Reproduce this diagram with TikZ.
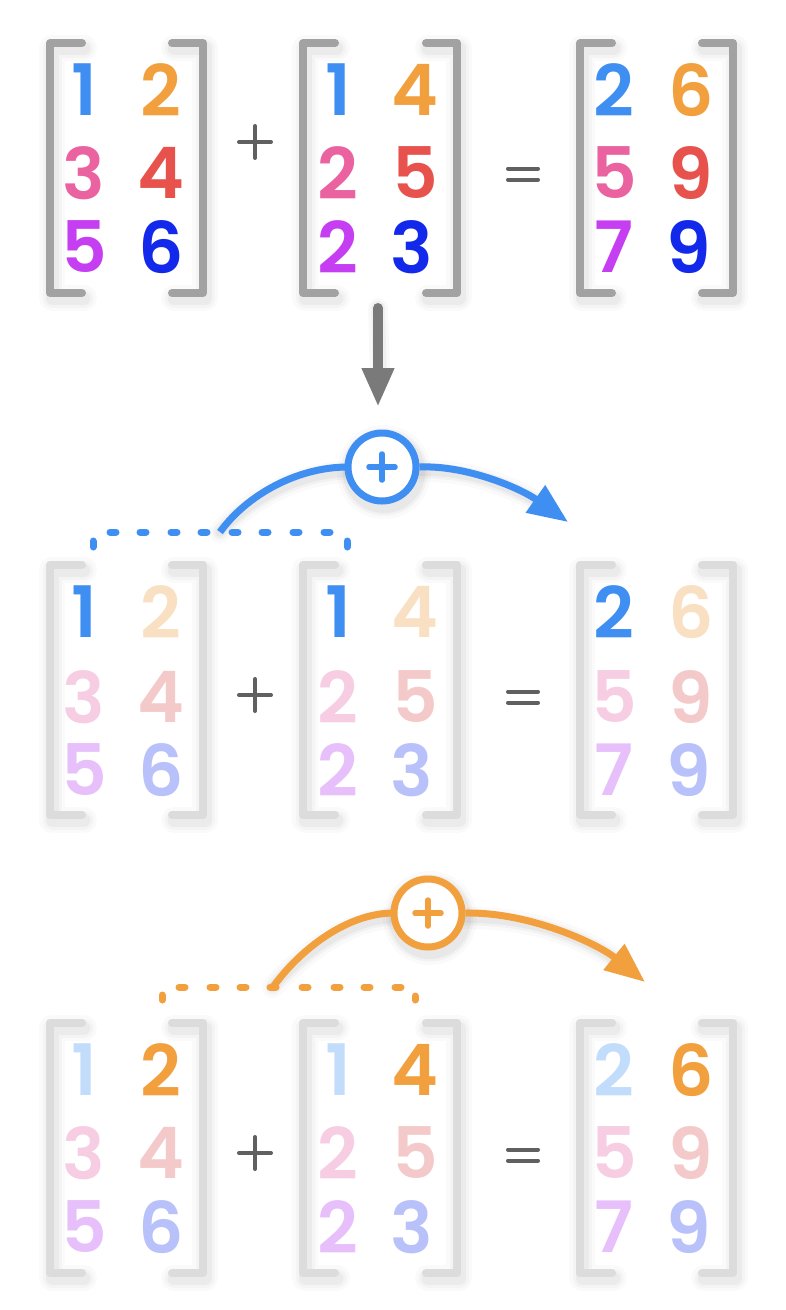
\documentclass[tikz,border=0pt]{standalone}
\usepackage{fontspec}
\newfontfamily\numfont{Poppins}[UprightFont={* SemiBold}]
\usetikzlibrary{arrows.meta}
\definecolor{cBlue}{HTML}{3F8EF2}
\definecolor{cOrange}{HTML}{F2A03E}
\definecolor{cPink}{HTML}{EA62A0}
\definecolor{cRed}{HTML}{E8524C}
\definecolor{cPurple}{HTML}{C63EF2}
\definecolor{cNavy}{HTML}{1228EA}
\definecolor{lBlue}{HTML}{C2DDFB}
\definecolor{lOrange}{HTML}{FAE0C2}
\definecolor{lPink}{HTML}{F6CDE2}
\definecolor{lRed}{HTML}{F4C9C9}
\definecolor{lPurple}{HTML}{E7BFFA}
\definecolor{lNavy}{HTML}{B9C1FA}
\definecolor{bGray}{HTML}{A2A2A2}
\definecolor{bLight}{HTML}{DCDCDC}
\definecolor{opGray}{HTML}{606060}
\definecolor{arGray}{HTML}{7A7A7A}
\newcommand\brackets[4]{%
  \foreach \w/\o in {26/0.018,19/0.025,13/0.035}{%
    \draw[shd=\o, line width=\w pt] (#1+32,#3) -- (#1,#3) -- (#1,#3+250) -- (#1+32,#3+250);
    \draw[shd=\o, line width=\w pt] (#2-31,#3) -- (#2,#3) -- (#2,#3+250) -- (#2-31,#3+250);}
  \draw[brk,#4] (#1+32,#3) -- (#1,#3) -- (#1,#3+250) -- (#1+32,#3+250);
  \draw[brk,#4] (#2-31,#3) -- (#2,#3) -- (#2,#3+250) -- (#2-31,#3+250);}
\newcommand\plussign[2]{%
  \draw[op] (#1.center) ++(-16,0) -- ++(32,0);
  \draw[op] (#1.center) ++(0,-16) -- ++(0,32);}
\newcommand\eqsign[1]{%
  \draw[op] (#1.center) ++(-15,-5.5) -- ++(30,0);
  \draw[op] (#1.center) ++(-15,5.5) -- ++(30,0);}
\begin{document}
\begin{tikzpicture}[x=1pt,y=-1pt,
  dig/.style={font=\numfont\fontsize{71}{71}\selectfont, inner sep=0pt, anchor=center},
  shd/.style={draw=black, opacity=#1, line cap=round, line join=round, shift={(2,5)}},
  brk/.style={line width=8pt, line cap=round, line join=round},
  op/.style={line width=4pt, opGray, line cap=round},
  opnode/.style={inner sep=0pt, minimum size=2pt},
  dashseg/.style={line width=7pt, line cap=round},
  arcline/.style={line width=7pt},
  plusring/.style={circle, line width=7pt, fill=white, minimum size=68pt, inner sep=0pt},
  ringplus/.style={line width=5.5pt, line cap=round}]
\path[fill=white] (0,0) rectangle (785,1310);

% ---------------- row 1 ----------------
\brackets{50}{203}{43}{bGray}
\brackets{303}{457}{43}{bGray}
\brackets{580}{733}{43}{bGray}
\node[dig,text=cBlue]   (a11) at (84,90)  {1};
\node[dig,text=cOrange] (a12) at (161,90) {2};
\node[dig,text=cPink]   (a21) at (84,173) {3};
\node[dig,text=cRed]    (a22) at (161,173) {4};
\node[dig,text=cPurple] (a31) at (84,247) {5};
\node[dig,text=cNavy]   (a32) at (161,247) {6};
\node[dig,text=cBlue]   (b11) at (338,90)  {1};
\node[dig,text=cOrange] (b12) at (415,90)  {4};
\node[dig,text=cPink]   (b21) at (338,173) {2};
\node[dig,text=cRed]    (b22) at (415,173) {5};
\node[dig,text=cPurple] (b31) at (338,247) {2};
\node[dig,text=cNavy]   (b32) at (412,247) {3};
\node[dig,text=cBlue]   (c11) at (614,90)  {2};
\node[dig,text=cOrange] (c12) at (691,90)  {6};
\node[dig,text=cPink]   (c21) at (614,173) {5};
\node[dig,text=cRed]    (c22) at (691,173) {9};
\node[dig,text=cPurple] (c31) at (614,247) {7};
\node[dig,text=cNavy]   (c32) at (689,247) {9};
\node[opnode] (p1) at (255,142) {};
\node[opnode] (e1) at (523,174) {};
\plussign{p1}{}
\eqsign{e1}

% down arrow
\coordinate (dA) at (378,308);
\coordinate (dB) at (378,407);
\foreach \w/\o in {20/0.025,14/0.035}
  \draw[shd=\o, line width=\w pt] (dA) -- (378,372);
\draw[arGray, line width=10pt, line cap=round, -{Triangle[length=39pt,width=30pt]}] (dA) -- (dB);

% ---------------- row 2 ----------------
\brackets{50}{203}{565}{bLight}
\brackets{303}{457}{565}{bLight}
\brackets{580}{733}{565}{bLight}
\node[dig,text=cBlue]   (d11) at (84,612)  {1};
\node[dig,text=lOrange] (d12) at (161,612) {2};
\node[dig,text=lPink]   (d21) at (84,697) {3};
\node[dig,text=lRed]    (d22) at (161,697) {4};
\node[dig,text=lPurple] (d31) at (84,770) {5};
\node[dig,text=lNavy]   (d32) at (161,770) {6};
\node[dig,text=cBlue]   (f11) at (338,612)  {1};
\node[dig,text=lOrange] (f12) at (415,612)  {4};
\node[dig,text=lPink]   (f21) at (338,697) {2};
\node[dig,text=lRed]    (f22) at (415,697) {5};
\node[dig,text=lPurple] (f31) at (338,770) {2};
\node[dig,text=lNavy]   (f32) at (412,770) {3};
\node[dig,text=cBlue]   (g11) at (614,612)  {2};
\node[dig,text=lOrange] (g12) at (691,612)  {6};
\node[dig,text=lPink]   (g21) at (614,697) {5};
\node[dig,text=lRed]    (g22) at (691,697) {9};
\node[dig,text=lPurple] (g31) at (614,770) {7};
\node[dig,text=lNavy]   (g32) at (689,770) {9};
\node[opnode] (p2) at (255,695) {};
\node[opnode] (e2) at (523,697) {};
\plussign{p2}{}
\eqsign{e2}

% blue dashed brace + arc
\coordinate (bS) at (220,532);
\coordinate (bT) at (568,522);
\foreach \w/\o in {22/0.02,15/0.03,10/0.04}{
  \draw[shd=\o, line width=\w pt] (bS) .. controls (246,496) and (296,467) .. (348,467);
  \draw[shd=\o, line width=\w pt] (416,466) .. controls (466,465) and (500,478) .. (538,498);
  \fill[black, opacity=\o, shift={(2,5)}] (382,467) circle (36+\w/2);}
\foreach \x in {113,143,174,204,235,265,296,327}
  \draw[dashseg,cBlue] (\x-3,532) -- (\x+3,532);
\draw[dashseg,cBlue] (93,541) -- (93,547);
\draw[dashseg,cBlue] (347,541) -- (347,547);
\draw[arcline,cBlue] (bS) .. controls (246,496) and (296,467) .. (348,467);
\node[plusring, draw=cBlue] (bc) at (382,467) {};
\draw[ringplus,cBlue] (bc.center) ++(-13,0) -- ++(26,0);
\draw[ringplus,cBlue] (bc.center) ++(0,-13) -- ++(0,26);
\draw[arcline,cBlue,-{Triangle[length=40pt,width=32pt]}] (bc.east) .. controls (466,465) and (520,488) .. (bT);

% ---------------- row 3 ----------------
\brackets{50}{203}{1023}{bLight}
\brackets{303}{457}{1023}{bLight}
\brackets{580}{733}{1023}{bLight}
\node[dig,text=lBlue]   (h11) at (84,1070)  {1};
\node[dig,text=cOrange] (h12) at (161,1070) {2};
\node[dig,text=lPink]   (h21) at (84,1153) {3};
\node[dig,text=lRed]    (h22) at (161,1153) {4};
\node[dig,text=lPurple] (h31) at (84,1227) {5};
\node[dig,text=lNavy]   (h32) at (161,1227) {6};
\node[dig,text=lBlue]   (k11) at (338,1070)  {1};
\node[dig,text=cOrange] (k12) at (415,1070)  {4};
\node[dig,text=lPink]   (k21) at (338,1153) {2};
\node[dig,text=lRed]    (k22) at (415,1153) {5};
\node[dig,text=lPurple] (k31) at (338,1227) {2};
\node[dig,text=lNavy]   (k32) at (412,1227) {3};
\node[dig,text=lBlue]   (m11) at (614,1070)  {2};
\node[dig,text=cOrange] (m12) at (691,1070)  {6};
\node[dig,text=lPink]   (m21) at (614,1153) {5};
\node[dig,text=lRed]    (m22) at (691,1153) {9};
\node[dig,text=lPurple] (m31) at (614,1227) {7};
\node[dig,text=lNavy]   (m32) at (689,1227) {9};
\node[opnode] (p3) at (255,1153) {};
\node[opnode] (e3) at (523,1155) {};
\plussign{p3}{}
\eqsign{e3}

% orange dashed brace + arc
\coordinate (oS) at (273,987);
\coordinate (oT) at (645,982);
\foreach \w/\o in {22/0.02,15/0.03,10/0.04}{
  \draw[shd=\o, line width=\w pt] (oS) .. controls (298,952) and (345,913) .. (394,913);
  \draw[shd=\o, line width=\w pt] (462,913) .. controls (530,912) and (580,932) .. (615,956);
  \fill[black, opacity=\o, shift={(2,5)}] (428,913) circle (36+\w/2);}
\foreach \x in {182,213,243,273,305,337,367,398}
  \draw[dashseg,cOrange] (\x-3,987) -- (\x+3,987);
\draw[dashseg,cOrange] (162,995) -- (162,1000);
\draw[dashseg,cOrange] (415,996) -- (415,1000);
\draw[arcline,cOrange] (oS) .. controls (298,952) and (345,913) .. (394,913);
\node[plusring, draw=cOrange] (oc) at (428,913) {};
\draw[ringplus,cOrange] (oc.center) ++(-13,0) -- ++(26,0);
\draw[ringplus,cOrange] (oc.center) ++(0,-13) -- ++(0,26);
\draw[arcline,cOrange,-{Triangle[length=40pt,width=32pt]}] (oc.east) .. controls (530,912) and (598,944) .. (oT);
\end{tikzpicture}
\end{document}
